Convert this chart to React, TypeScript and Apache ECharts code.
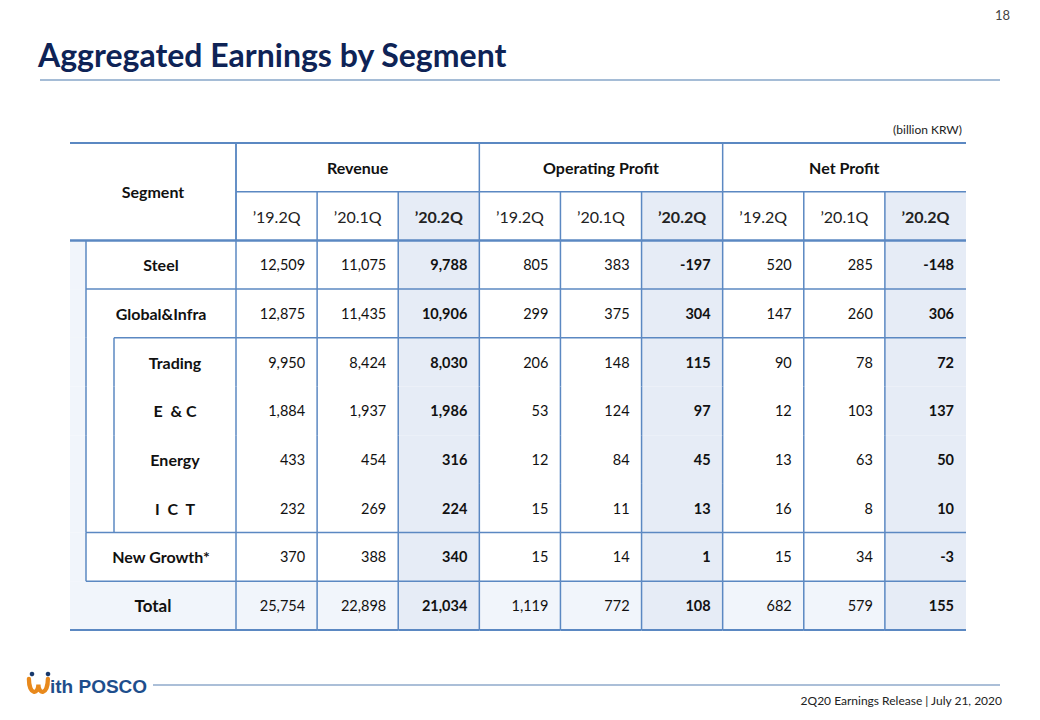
import React, { useEffect, useRef } from "react";
import * as echarts from "echarts";

// ---------- content ----------
const titleText = "Aggregated Earnings by Segment";
const unitNote = "(billion KRW)";
const pageNumber = "18";
const footerText = "2Q20 Earnings Release | July 21, 2020";
const logoText = "ith POSCO";
const segmentHeader = "Segment";

const metrics = ["Revenue", "Operating Profit", "Net Profit"];
const quarters = ["\u201919.2Q", "\u201920.1Q", "\u201920.2Q"];
const segments = ["Steel", "Global&Infra", "Trading", "E  & C", "Energy", "I  C  T", "New Growth*", "Total"];
const segmentLevels = [1, 1, 2, 2, 2, 2, 1, 0];

const revenue19Q2 = [12509, 12875, 9950, 1884, 433, 232, 370, 25754];
const revenue20Q1 = [11075, 11435, 8424, 1937, 454, 269, 388, 22898];
const revenue20Q2 = [9788, 10906, 8030, 1986, 316, 224, 340, 21034];
const opProfit19Q2 = [805, 299, 206, 53, 12, 15, 15, 1119];
const opProfit20Q1 = [383, 375, 148, 124, 84, 11, 14, 772];
const opProfit20Q2 = [-197, 304, 115, 97, 45, 13, 1, 108];
const netProfit19Q2 = [520, 147, 90, 12, 13, 16, 15, 682];
const netProfit20Q1 = [285, 260, 78, 103, 63, 8, 34, 579];
const netProfit20Q2 = [-148, 306, 72, 137, 50, 10, -3, 155];

const valueColumns = [
  revenue19Q2, revenue20Q1, revenue20Q2,
  opProfit19Q2, opProfit20Q1, opProfit20Q2,
  netProfit19Q2, netProfit20Q1, netProfit20Q2,
];

// ---------- style ----------
const FONT = "Lato, 'Open Sans', sans-serif";
const LINE = "#5B88C2";
const HI = "#E6ECF6";
const LIGHT = "#F1F5FB";
const TITLE_COLOR = "#0E2356";
const SEG_W = 166;
const INDENT = [0, 16, 44];
const PAD = 12;

echarts.graphic.registerShape(
  "poscoW",
  echarts.graphic.extendPath("M2 3 C2 20 12 20 12 9 C12 20 22 20 22 3", {})
);

const fmt = (v: number) => v.toLocaleString("en-US");

const ruleStart = (s: number): number | null => {
  const lv = segmentLevels[s];
  const nx = segmentLevels[s + 1];
  if (nx === undefined) return 0;
  if (lv === 2 && nx === 2) return null;
  if (lv === 2 && nx < 2) return nx;
  return Math.max(lv, nx);
};

type Cell = { c: number; r: number; text: string; kind: "quarter" | "value"; seg: number };
const cells: Cell[] = [];
for (let c = 0; c < valueColumns.length; c++) {
  cells.push({ c, r: 1, text: quarters[c % 3], kind: "quarter", seg: -1 });
}
segments.forEach((_, s) => {
  for (let c = 0; c < valueColumns.length; c++) {
    cells.push({ c, r: s + 2, text: fmt(valueColumns[c][s]), kind: "value", seg: s });
  }
});

const segItems = [{ r: 0, seg: -1 }, ...segments.map((_, s) => ({ r: s + 2, seg: s }))];

const hLine = (x1: number, x2: number, y: number, lw = 1.5, color = LINE) => ({
  type: "line",
  shape: { x1, y1: y, x2, y2: y },
  style: { stroke: color, lineWidth: lw },
  z2: 10,
});
const vLine = (x: number, y1: number, y2: number, lw = 1.5) => ({
  type: "line",
  shape: { x1: x, y1, x2: x, y2 },
  style: { stroke: LINE, lineWidth: lw },
  z2: 10,
});
const txt = (
  x: number, y: number, text: string, align: string, size: number, bold: boolean, color = "#111"
) => ({
  type: "text",
  x, y,
  style: {
    text,
    fill: color,
    fontSize: size,
    fontFamily: FONT,
    fontWeight: bold ? "bold" : "normal",
    align, textAlign: align,
    verticalAlign: "middle", textVerticalAlign: "middle",
  },
  z2: 5,
});

function buildOption(): any {
  const rowKeys = ["metric", "quarter", ...segments];
  const columnKeys = metrics.flatMap((m) => quarters.map((q) => m + q));

  return {
    animation: false,
    grid: { left: 236, top: 143, width: 730, height: 487 },
    xAxis: { type: "category", data: columnKeys, show: false },
    yAxis: { type: "category", data: rowKeys, inverse: true, show: false },
    series: [
      {
        type: "custom",
        name: "cells",
        data: cells.map((d) => [d.c, d.r]),
        renderItem: (params: any, api: any) => {
          const d = cells[params.dataIndex];
          const [cx, cy] = api.coord([d.c, d.r]);
          const [w, h] = api.size([1, 1]);
          const x0 = cx - w / 2;
          const y0 = cy - h / 2;
          const children: any[] = [];
          const hi = d.c % 3 === 2;
          const isTotal = d.seg === segments.length - 1;
          if (hi || isTotal) {
            children.push({
              type: "rect",
              shape: { x: x0, y: y0, width: w, height: h },
              style: { fill: hi ? HI : LIGHT },
              z2: 0,
            });
          }
          if (d.kind === "quarter") {
            children.push(txt(cx, cy, d.text, "center", 16, hi, "#222"));
            children.push(hLine(x0, x0 + w, y0 + h, 2.5));
          } else {
            children.push(txt(x0 + w - PAD, cy, d.text, "right", 14.5, hi, "#111"));
            if (ruleStart(d.seg) !== null) children.push(hLine(x0, x0 + w, y0 + h, isTotal ? 2 : 1.5));
          }
          children.push(vLine(x0, y0, y0 + h));
          return { type: "group", children };
        },
      },
      {
        type: "custom",
        name: "metrics",
        data: metrics.map((_, g) => [g * 3 + 1, 0]),
        renderItem: (params: any, api: any) => {
          const g = params.dataIndex;
          const [cx, cy] = api.coord([g * 3 + 1, 0]);
          const [w, h] = api.size([1, 1]);
          const x0 = cx - 1.5 * w;
          const y0 = cy - h / 2;
          return {
            type: "group",
            children: [
              txt(cx, cy, metrics[g], "center", 16, true, "#111"),
              hLine(x0, x0 + 3 * w, y0 + h),
              vLine(x0, y0, y0 + h),
            ],
          };
        },
      },
      {
        type: "custom",
        name: "segments",
        data: segItems.map((d) => [0, d.r]),
        renderItem: (params: any, api: any) => {
          const d = segItems[params.dataIndex];
          const [cx, cy] = api.coord([0, d.r]);
          const [w, h] = api.size([1, 1]);
          const xRight = cx - w / 2;
          const left = xRight - SEG_W;
          const y0 = cy - h / 2;
          const children: any[] = [];
          if (d.seg < 0) {
            const tableRight = api.coord([valueColumns.length - 1, 0])[0] + w / 2;
            children.push(hLine(left, tableRight, y0, 2));
            children.push(txt((left + xRight) / 2, y0 + h, segmentHeader, "center", 16, true, "#111"));
            children.push(vLine(xRight, y0, y0 + 2 * h));
            children.push(hLine(left, xRight, y0 + 2 * h, 2.5));
            return { type: "group", children };
          }
          const s = d.seg;
          const lv = segmentLevels[s];
          const isTotal = s === segments.length - 1;
          if (isTotal) {
            children.push({
              type: "rect",
              shape: { x: left, y: y0, width: SEG_W, height: h },
              style: { fill: LIGHT },
              z2: 0,
            });
          }
          if (lv >= 1) {
            children.push({
              type: "rect",
              shape: { x: left, y: y0, width: INDENT[1], height: h },
              style: { fill: LIGHT },
              z2: 0,
            });
            children.push(vLine(left + INDENT[1], y0, y0 + h));
          }
          if (lv === 2) children.push(vLine(left + INDENT[2], y0, y0 + h));
          const tx = (left + INDENT[lv] + xRight) / 2;
          children.push(txt(tx, cy, segments[s], "center", isTotal ? 17 : 16, true, "#111"));
          const rs = ruleStart(s);
          if (rs !== null) children.push(hLine(left + INDENT[rs], xRight, y0 + h, isTotal ? 2 : 1.5));
          return { type: "group", children };
        },
      },
    ],
    graphic: [
      {
        type: "text",
        left: 38,
        top: 38,
        style: {
          text: titleText,
          fill: TITLE_COLOR,
          fontSize: 32,
          fontWeight: "bold",
          fontFamily: FONT,
        },
      },
      {
        type: "line",
        shape: { x1: 40, y1: 80, x2: 1000, y2: 80 },
        style: { stroke: "#A5BCD6", lineWidth: 2 },
      },
      {
        type: "text",
        x: 1010,
        y: 15,
        style: {
          text: pageNumber,
          fill: "#444",
          fontSize: 13,
          fontFamily: FONT,
          align: "right", textAlign: "right",
          verticalAlign: "middle", textVerticalAlign: "middle",
        },
      },
      {
        type: "text",
        x: 962,
        y: 129,
        style: {
          text: unitNote,
          fill: "#222",
          fontSize: 12,
          fontFamily: FONT,
          align: "right", textAlign: "right",
          verticalAlign: "middle", textVerticalAlign: "middle",
        },
      },
      {
        type: "line",
        shape: { x1: 153, y1: 685, x2: 1000, y2: 685 },
        style: { stroke: "#8FAACB", lineWidth: 1.5 },
      },
      {
        type: "text",
        x: 1002,
        y: 700,
        style: {
          text: footerText,
          fill: "#222",
          fontSize: 12,
          fontFamily: FONT,
          align: "right", textAlign: "right",
          verticalAlign: "middle", textVerticalAlign: "middle",
        },
      },
      {
        type: "poscoW",
        x: 27,
        y: 676,
        scaleX: 0.95,
        scaleY: 0.95,
        style: { fill: "none", stroke: "#E8891C", lineWidth: 4.5, lineCap: "round" },
      },
      { type: "circle", shape: { cx: 32, cy: 674, r: 2.3 }, style: { fill: "#17386B" } },
      { type: "circle", shape: { cx: 48, cy: 674, r: 2.3 }, style: { fill: "#17386B" } },
      {
        type: "text",
        x: 50,
        y: 686,
        style: {
          text: logoText,
          fill: "#1E4E8C",
          fontSize: 19,
          fontWeight: "bold",
          fontFamily: "'Liberation Sans', Arial, sans-serif",
          align: "left", textAlign: "left",
          verticalAlign: "middle", textVerticalAlign: "middle",
        },
      },
    ],
  };
}

export default function App() {
  const ref = useRef<HTMLDivElement>(null);
  useEffect(() => {
    const el = ref.current;
    if (!el) return;
    const chart = echarts.init(el, null, { renderer: "svg" });
    chart.setOption(buildOption());
    return () => chart.dispose();
  }, []);
  return (
    <div
      ref={ref}
      style={{ position: "fixed", left: 0, top: 0, width: 1040, height: 720, background: "#fff" }}
    />
  );
}
